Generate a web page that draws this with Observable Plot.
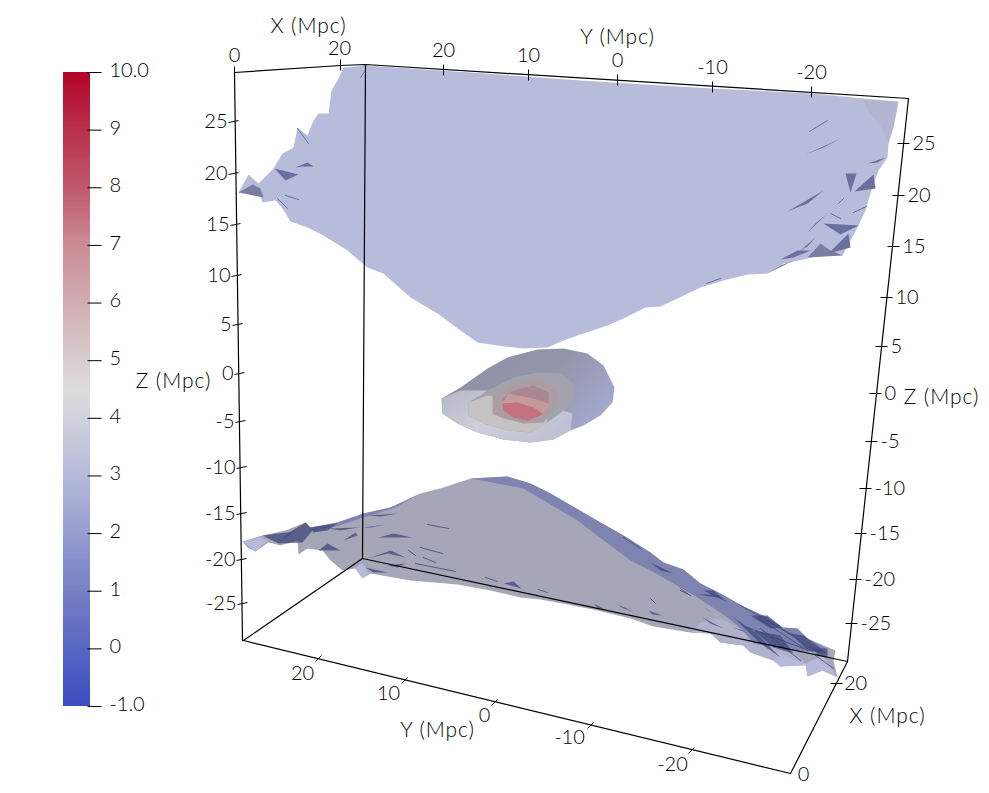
<!DOCTYPE html>
<html><head><meta charset="utf-8">
<script src="https://cdn.jsdelivr.net/npm/d3@7"></script>
<script src="https://cdn.jsdelivr.net/npm/@observablehq/plot@0.6"></script>
<style>
html,body{margin:0;padding:0;background:#fff}
#stage{position:relative;width:989px;height:793px;overflow:hidden}
#stage svg{position:absolute;left:0;top:0;background:transparent}
.wide text{letter-spacing:0.9px}
</style></head><body><div id="stage"></div>
<script>
// ---- colour bar ----
const barTicks = [-1,0,1,2,3,4,5,6,7,8,9,10];
const barLabels = ["-1.0","0","1","2","3","4","5","6","7","8","9","10.0"];
const barStops = [-1,1,3,4.5,7,8,9,10];
const barColors = ["#3b4cc0","#7680c6","#b6bada","#dddddd","#ca8c95","#c0586c","#b92f4a","#b40426"];

// ---- iso-surfaces, picture positions read from the rendering ----
const topSheet = [[343,67],[365,65],[470,72],[580,80],[712,88],[811,93],[863,98],[898,101],[893,127],[888,143],[887,157],[878,170],[873,183],[870,193],[865,210],[858,225],[850,240],[842,255],[827,253],[803,259],[783,263],[767,273],[747,274],[723,280],[700,287],[677,298],[660,306],[645,307],[623,318],[607,325],[580,334],[563,340],[547,347],[523,348],[497,345],[477,342],[460,330],[437,313],[410,297],[393,282],[383,273],[367,267],[347,250],[323,235],[307,227],[290,221],[282,208],[275,200],[262,202],[258,190],[238,192],[248,174],[258,183],[273,168],[282,153],[293,147],[297,127],[307,135],[313,120],[318,113],[328,113],[331,90],[337,80]];
const topCorner = [[863,100],[898,101],[893,127],[888,143],[880,125],[868,112]];
const topFacets = [
 [[274,168],[298,174],[285,180]],[[295,167],[307,162],[313,166],[303,166]],
 [[845,173],[856,173],[850,192]],[[854,191],[873,174],[875,188]],
 [[787,211],[823,190],[807,203]],[[806,233],[828,212],[815,223]],
 [[823,223],[858,225],[840,234]],[[805,154],[840,138],[823,147]],
 [[867,163],[885,157],[877,162]],[[780,259],[797,250],[810,250],[793,257]],
 [[828,253],[848,233],[850,247]],[[767,273],[793,260],[780,265]],[[800,250],[815,237],[807,246]]
];
const topGreyFacets = [[[238,192],[252,184],[260,188],[263,197]],[[807,257],[820,243],[830,250],[842,255]]];
const topStreaks = [
 [[297,128],[308,143]],[[277,198],[287,208]],[[285,195],[298,199]],[[360,77],[365,70]],
 [[809,131],[827,120]],[[706,283],[720,278]],[[853,212],[866,206]],[[838,203],[843,198]],[[830,213],[840,218]]
];

const bottomSilhouette = [[242,541],[262,535],[285,530],[305,522],[310,527],[337,522],[363,513],[390,507],[420,493],[443,487],[470,478],[507,476],[530,483],[550,493],[600,522],[623,535],[650,552],[663,562],[683,569],[700,583],[720,593],[743,606],[767,617],[782,627],[797,628],[807,638],[835,650],[833,660],[837,677],[822,670],[807,676],[805,663],[780,666],[773,660],[750,652],[743,645],[720,642],[710,633],[690,632],[653,626],[630,618],[597,610],[567,604],[540,599],[520,597],[490,590],[457,584],[410,580],[370,573],[362,578],[355,568],[342,570],[330,560],[322,550],[307,548],[298,554],[297,540],[280,545],[268,542],[255,551],[247,547]];
const bottomRim = [[470,478],[507,476],[530,483],[550,493],[600,522],[623,535],[650,552],[663,562],[683,569],[700,583],[720,593],[743,606],[767,617],[782,627],[797,628],[807,638],[826,648],[815,652],[790,650],[753,643],[743,630],[727,617],[697,597],[673,583],[650,570],[630,560],[577,520],[560,510],[523,488]];
const bottomLeftRim = [[305,522],[310,527],[337,522],[363,513],[390,507],[420,493],[395,507],[363,517],[335,526],[310,531]];
const bottomTailBand = [[690,632],[710,633],[720,642],[743,645],[750,652],[773,660],[780,666],[805,663],[790,650],[753,643],[740,628],[720,618],[700,622]];
const bottomLight = [[[355,567],[362,578],[368,573],[362,562]],[[242,541],[255,551],[267,540],[260,537]],[[780,653],[807,665],[780,666],[773,660]],[[807,676],[805,663],[822,655],[837,677],[822,670]]];
const bottomFacets = [
 [[262,535],[285,532],[292,532],[278,543]],[[278,543],[287,533],[305,522],[312,530],[302,542]],
 [[310,527],[337,523],[327,530],[313,532]],[[328,528],[358,527],[340,530]],[[343,540],[355,532],[357,535]],
 [[318,550],[327,543],[340,550]],[[368,558],[390,550],[405,557],[387,553]],[[362,527],[385,524],[370,527]],
 [[368,515],[398,513],[380,516]],[[378,537],[412,537],[393,533]],[[365,567],[388,572],[373,572]],
 [[387,565],[405,563],[397,567]],[[503,583],[513,581],[521,588]],
 [[697,594],[723,598],[713,594]],[[650,562],[673,573],[660,570]],[[703,590],[727,602],[713,590]],
 [[750,615],[767,615],[782,627],[770,628]],[[753,630],[780,635],[793,653],[773,647]],
 [[790,633],[803,635],[827,653],[807,650]],[[733,617],[760,643],[780,657],[755,632]],
 [[813,648],[827,648],[827,657],[817,655]],[[593,603],[603,608],[598,608]],[[617,604],[633,611],[623,608]],
 [[648,610],[662,615],[652,614]],[[702,617],[723,628],[710,623]],[[702,606],[712,613],[707,609]],
 [[732,627],[748,633],[740,629]]
];
const bottomStreaks = [
 [[415,563],[455,571]],[[423,557],[435,562]],[[420,547],[442,553]],[[427,524],[448,528]],[[485,577],[497,581]],
 [[538,589],[547,592]],[[408,550],[415,555]],[[680,590],[690,595]],[[650,598],[655,603]],[[760,628],[800,660]],[[815,655],[833,668]],
 [[623,537],[640,548]],[[680,588],[687,593]],[[740,605],[793,635]],[[757,617],[807,650]],[[767,620],[820,653]],[[747,627],[803,648]]
];

const shellOuter = [[441,398],[460,387],[487,368],[507,357],[537,349],[563,348],[587,353],[603,365],[614,387],[612,402],[600,415],[583,425],[570,430],[553,439],[530,442],[503,439],[477,432],[457,423],[442,413]];
const shellFront = [[441,398],[460,390],[500,390],[530,400],[572,413],[570,430],[553,439],[530,442],[503,439],[477,432],[457,423],[442,413]];
const shellMiddle = [[468,402],[487,390],[513,377],[537,372],[560,373],[573,383],[574,398],[563,410],[547,422],[530,432],[507,430],[483,423],[468,415]];
const shellMiddleFront = [[468,402],[487,395],[510,398],[545,412],[547,422],[530,432],[507,430],[483,423],[468,415]];
const shellInner = [[492,395],[510,383],[533,379],[552,385],[558,395],[555,407],[543,422],[523,423],[503,418],[492,413]];
const core = [[502,398],[513,390],[533,385],[548,392],[548,407],[540,415],[527,420],[513,417],[503,410]];
const coreBand = [[508,393],[533,398],[548,403],[548,407],[542,413],[533,407],[517,402],[502,403]];
const coreLow = [[502,403],[517,402],[533,407],[542,413],[533,418],[527,420],[513,417],[503,410]];

// ---- axes ----
const frameLines = [
 [[234,72],[340,65],[365,64],[908,98]],[[234,72],[242,640]],[[365,64],[362,558]],[[908,98],[847,661]],
 [[243,640],[362,558]],[[362,558],[847,661]],[[243,640],[790,773]],[[847,661],[790,773]]
];
const zValues = [25,20,15,10,5,0,-5,-10,-15,-20,-25];
const zLeftX = [233,233,235,236,237,239,240,241,241,241,242];
const zLeftY = [121,173,224,275,324,373,421,467,513,559,603];
const zRightX = [903,898,893,886,881,875,871,865,860,855,851];
const zRightY = [143,195,246,297,346,393,441,488,533,579,623];
const yTopValues = [20,10,0,-10,-20];
const yTopX = [443,528,617,712,811];
const yTopY = [70,75,80,87,92];
const yBottomValues = [20,10,0,-10,-20];
const yBottomX = [318,404,494,590,691];
const yBottomY = [658,680,702,725,750];
const yBottomLabelX = [302,388,484,569,672];
const yBottomLabelY = [673,693,715,737,764];
const xTop = [{v:0,x:234,y:72,lx:234,ly:55},{v:20,x:340,y:65,lx:339,ly:48}];
const xBottomLabels = [{v:20,x:855,y:683},{v:0,x:803,y:774}];
const axisTitles = [{t:"X (Mpc)",x:308,y:26},{t:"Y (Mpc)",x:617,y:37},{t:"Z (Mpc)",x:173,y:381},{t:"Z (Mpc)",x:941,y:397},{t:"Y (Mpc)",x:437,y:730},{t:"X (Mpc)",x:887,y:716}];

const FONT = "Lato, 'Open Sans', sans-serif";
const INK = "#000";
const px = d => d[0], py = d => d[1];
const poly = (pts, fill, opacity = 1) => Plot.line(pts, {x: px, y: py, fill, fillOpacity: opacity, stroke: "none", curve: "linear-closed"});
const stroke = (pts, color, width, opacity = 1) => Plot.line(pts, {x: px, y: py, stroke: color, strokeWidth: width, strokeOpacity: opacity, curve: "linear"});
const zip = (vals, xs, ys) => vals.map((v, i) => ({v, x: xs[i], y: ys[i]}));
const zLeft = zip(zValues, zLeftX, zLeftY);
const zRight = zip(zValues, zRightX, zRightY);
const yTop = zip(yTopValues, yTopX, yTopY);
const yBottom = zip(yBottomValues, yBottomX, yBottomY);
const yBottomText = zip(yBottomValues, yBottomLabelX, yBottomLabelY);
const txt = (data, o) => Plot.text(data, {fontSize: 20, fontWeight: 300, fill: INK, ...o});

const defs = () => d3.create("svg:defs").html(`
 <linearGradient id="gOuter" x1="0" y1="0" x2="1" y2="0.5">
  <stop offset="0" stop-color="#8e90a4"/><stop offset="0.6" stop-color="#9395aa"/><stop offset="1" stop-color="#a3a7ca"/></linearGradient>
 <linearGradient id="gFront" x1="0" y1="0" x2="1" y2="0.6">
  <stop offset="0" stop-color="#b6b7c6"/><stop offset="0.5" stop-color="#cdced9"/><stop offset="1" stop-color="#c0c2d4"/></linearGradient>
`).node();

const main = Plot.plot({
  width: 989, height: 793, margin: 0,
  x: {domain: [0, 989], range: [0, 989], axis: null},
  y: {domain: [0, 793], range: [0, 793], axis: null},
  style: {fontFamily: FONT, background: "transparent"},
  marks: [
    defs,
    // top sheet
    poly(topSheet, "#b8bcdb"),
    poly(topCorner, "#a9aab6", 0.3),
    ...topGreyFacets.map(p => poly(p, "#7b7d9e")),
    ...topFacets.map(p => poly(p, "#6a6f9f")),
    ...topStreaks.map(p => stroke(p, "#6a6f9f", 1)),
    // bottom sheet
    poly(bottomSilhouette, "#a5a7b8"),
    poly(bottomTailBand, "#afb2cb"),
    poly(bottomRim, "#7e84af"),
    poly(bottomLeftRim, "#7e84af"),
    ...bottomLight.map(p => poly(p, "#b5b9da")),
    ...bottomFacets.map(p => poly(p, "#3d4478", 0.72)),
    ...bottomStreaks.map(p => stroke(p, "#3f4578", 1, 0.8)),
    // nested shells
    poly(shellOuter, "url(#gOuter)"),
    poly(shellFront, "url(#gFront)"),
    poly(shellMiddle, "#a3a3ae"),
    poly(shellMiddleFront, "#c4c2c3"),
    poly(shellInner, "#ab9da3"),
    poly(core, "#a98692"),
    poly(coreBand, "#c49a9c"),
    poly(coreLow, "#c4727f"),
    // frame
    ...frameLines.map(p => stroke(p, "#000", 1.2)),
    Plot.link(zLeft, {x1: d => d.x - 5, x2: d => d.x + 5, y1: d => d.y + 1, y2: d => d.y - 1, stroke: "#000", strokeWidth: 1}),
    Plot.link(zRight, {x1: d => d.x - 6, x2: d => d.x + 6, y1: d => d.y, y2: d => d.y, stroke: "#000", strokeWidth: 1}),
    Plot.link(yTop, {x1: d => d.x, x2: d => d.x, y1: d => d.y - 6, y2: d => d.y + 5, stroke: "#000", strokeWidth: 1}),
    Plot.link(xTop, {x1: d => d.x, x2: d => d.x, y1: d => d.y - 6, y2: d => d.y + 5, stroke: "#000", strokeWidth: 1}),
    Plot.link(yBottom, {x1: d => d.x - 3, x2: d => d.x + 3, y1: d => d.y + 3, y2: d => d.y - 3, stroke: "#000", strokeWidth: 1}),
    Plot.link([{x: 836, y: 683}], {x1: d => d.x - 6, x2: d => d.x + 6, y1: d => d.y, y2: d => d.y, stroke: "#000", strokeWidth: 1}),
    // tick labels
    txt(zLeft, {x: d => d.x - 6, y: "y", text: "v", textAnchor: "end"}),
    txt(zRight, {x: d => d.x + 9, y: "y", text: "v", textAnchor: "start"}),
    txt(yTop, {x: "x", y: d => d.y - 20, text: "v"}),
    txt(xTop, {x: "lx", y: "ly", text: "v"}),
    txt(yBottomText, {x: "x", y: "y", text: "v"}),
    txt(xBottomLabels, {x: "x", y: "y", text: "v"}),
    txt(axisTitles, {x: "x", y: "y", text: "t", fontSize: 21, className: "wide"})
  ]
});

const step = 0.05;
const levels = d3.range(-1, 10, step);
const bar = Plot.plot({
  width: 989, height: 793, marginLeft: 63, marginRight: 899, marginTop: 72, marginBottom: 87,
  x: {domain: [0, 1], axis: null},
  y: {domain: [-1, 10], axis: null},
  color: {type: "linear", domain: barStops, range: barColors},
  style: {fontFamily: FONT, background: "transparent", overflow: "visible"},
  marks: [
    Plot.rect(levels, {x1: () => 0, x2: () => 1, y1: d => d, y2: d => d + step, fill: d => d + step / 2, shapeRendering: "crispEdges", inset: 0}),
    Plot.link(barTicks, {x1: () => 0.89, x2: () => 1.41, y1: d => d, y2: d => d, stroke: "#000", strokeWidth: 1}),
    Plot.text(barTicks, {x: () => 1.7, y: d => d, dy: -2, text: (d, i) => barLabels[i], textAnchor: "start", fontSize: 20, fontWeight: 300, fill: INK})
  ]
});

document.getElementById("stage").append(main, bar);
</script></body></html>
